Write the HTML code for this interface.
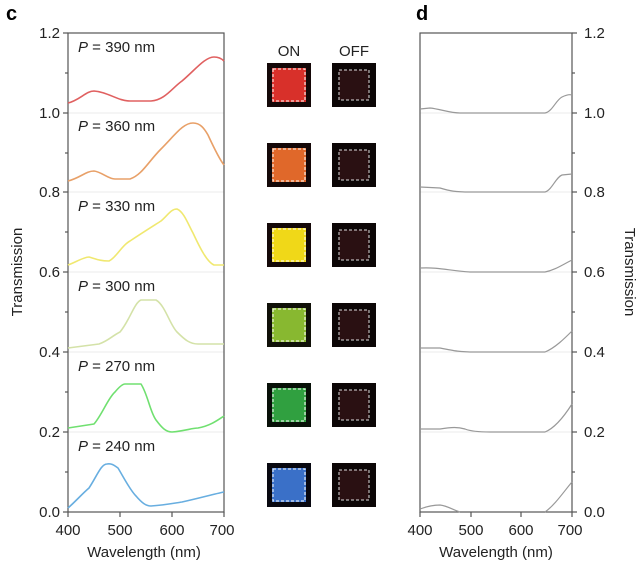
<!DOCTYPE html>
<html><head><meta charset="utf-8"><style>
body{margin:0;background:#fff;width:640px;height:576px;overflow:hidden}
svg{font-family:"Liberation Sans",Arial,sans-serif}
</style></head><body>
<svg width="640" height="576" viewBox="0 0 640 576" xmlns="http://www.w3.org/2000/svg">
<text x="6" y="20" font-size="20" font-weight="bold">c</text>
<text x="416" y="20" font-size="20" font-weight="bold">d</text>
<g stroke="#ebebeb" stroke-width="1">
<line x1="68" x2="224" y1="113" y2="113"/><line x1="68" x2="224" y1="192" y2="192"/><line x1="68" x2="224" y1="272" y2="272"/><line x1="68" x2="224" y1="352" y2="352"/><line x1="68" x2="224" y1="432" y2="432"/>
<line x1="420" x2="572" y1="113" y2="113"/><line x1="420" x2="572" y1="192" y2="192"/><line x1="420" x2="572" y1="272" y2="272"/><line x1="420" x2="572" y1="352" y2="352"/><line x1="420" x2="572" y1="432" y2="432"/>
</g>
<rect x="68" y="33" width="156" height="479" fill="none" stroke="#555" stroke-width="1.2"/>
<g stroke="#555" stroke-width="1.2">
<line x1="63" x2="68" y1="33" y2="33"/><line x1="65" x2="68" y1="73" y2="73"/><line x1="63" x2="68" y1="113" y2="113"/><line x1="65" x2="68" y1="153" y2="153"/><line x1="63" x2="68" y1="192" y2="192"/><line x1="65" x2="68" y1="232" y2="232"/><line x1="63" x2="68" y1="272" y2="272"/><line x1="65" x2="68" y1="312" y2="312"/><line x1="63" x2="68" y1="352" y2="352"/><line x1="65" x2="68" y1="392" y2="392"/><line x1="63" x2="68" y1="432" y2="432"/><line x1="65" x2="68" y1="472" y2="472"/><line x1="63" x2="68" y1="512" y2="512"/>
<line x1="68" x2="68" y1="512" y2="517"/><line x1="120" x2="120" y1="512" y2="517"/><line x1="172" x2="172" y1="512" y2="517"/><line x1="224" x2="224" y1="512" y2="517"/>
</g>
<g font-size="15" fill="#222" text-anchor="end">
<text x="60" y="38">1.2</text><text x="60" y="118">1.0</text><text x="60" y="197">0.8</text><text x="60" y="277">0.6</text><text x="60" y="357">0.4</text><text x="60" y="437">0.2</text><text x="60" y="517">0.0</text>
</g>
<g font-size="15" fill="#222" text-anchor="middle">
<text x="68" y="535">400</text><text x="120" y="535">500</text><text x="172" y="535">600</text><text x="222" y="535">700</text>
<text x="144" y="557">Wavelength (nm)</text>
</g>
<text transform="translate(22,272) rotate(-90)" font-size="15" text-anchor="middle" fill="#222">Transmission</text>
<g font-size="15" fill="#222">
<text x="78" y="52"><tspan font-style="italic">P</tspan> = 390 nm</text>
<text x="78" y="131"><tspan font-style="italic">P</tspan> = 360 nm</text>
<text x="78" y="211"><tspan font-style="italic">P</tspan> = 330 nm</text>
<text x="78" y="291"><tspan font-style="italic">P</tspan> = 300 nm</text>
<text x="78" y="371"><tspan font-style="italic">P</tspan> = 270 nm</text>
<text x="78" y="451"><tspan font-style="italic">P</tspan> = 240 nm</text>
</g>
<g fill="none" stroke-width="1.6" stroke-linejoin="round">
<path stroke="#e06060" d="M68,103 C80,100 86,91 94,91 C108,92 118,101 130,101 L151,101 C165,100 172,88 182,81 C195,70 205,57 214,57 C219,57 222,59 224,61"/>
<path stroke="#e8a068" d="M68,181 C80,178 86,171 94,171 C102,172 108,179 115,179 L130,179 C142,175 148,162 161,149 C175,135 183,123 193,123 C200,123 204,128 208,135 C214,148 220,160 224,165"/>
<path stroke="#f0e870" d="M68,265 C76,262 84,257 89,257 C96,259 100,261 109,261 C116,258 122,245 130,241 C142,233 150,228 161,221 C168,215 171,209 177,209 C184,212 188,224 193,233 C200,248 207,262 214,265 L224,265"/>
<path stroke="#d4e2a8" d="M68,348 L99,344 C108,341 112,336 120,332 C130,320 134,303 141,300 L156,300 C165,305 170,325 177,332 C185,340 190,344 198,344 L224,344"/>
<path stroke="#70e070" d="M68,428 L94,424 C102,415 108,398 115,392 C120,386 123,384 125,384 L141,384 C148,395 150,412 156,420 C162,428 166,432 172,432 C185,431 192,428 198,428 C210,426 218,420 224,416"/>
<path stroke="#68aee0" d="M68,508 C76,501 82,494 89,488 C97,476 101,464 107,464 C112,463 115,466 118,468 C124,478 130,490 136,496 C142,503 146,506 151,506 C165,505 175,503 182,502 C200,498 214,494 224,492"/>
</g>
<g font-size="15" fill="#222" text-anchor="middle"><text x="289" y="56">ON</text><text x="354" y="56">OFF</text></g>
<defs>
<g id="off"><rect x="-22" y="-22" width="44" height="44" fill="#0c0606"/><rect x="-15" y="-15" width="30" height="30" fill="#2a1012"/><rect x="-15" y="-15" width="30" height="30" fill="none" stroke="#ddd" stroke-width="1" stroke-dasharray="3,2"/></g>
</defs>
<g>
<g transform="translate(289,85)"><rect x="-22" y="-22" width="44" height="44" fill="#140808"/><rect x="-17" y="-17" width="34" height="34" fill="#d8302a"/><rect x="-16" y="-16" width="32" height="32" fill="none" stroke="#fff" stroke-dasharray="3,2"/></g>
<g transform="translate(289,165)"><rect x="-22" y="-22" width="44" height="44" fill="#140808"/><rect x="-17" y="-17" width="34" height="34" fill="#e0682a"/><rect x="-16" y="-16" width="32" height="32" fill="none" stroke="#fff" stroke-dasharray="3,2"/></g>
<g transform="translate(289,245)"><rect x="-22" y="-22" width="44" height="44" fill="#140808"/><rect x="-17" y="-17" width="34" height="34" fill="#f0d818"/><rect x="-16" y="-16" width="32" height="32" fill="none" stroke="#fff" stroke-dasharray="3,2"/></g>
<g transform="translate(289,325)"><rect x="-22" y="-22" width="44" height="44" fill="#101008"/><rect x="-17" y="-17" width="34" height="34" fill="#88b830"/><rect x="-16" y="-16" width="32" height="32" fill="none" stroke="#fff" stroke-dasharray="3,2"/></g>
<g transform="translate(289,405)"><rect x="-22" y="-22" width="44" height="44" fill="#081008"/><rect x="-17" y="-17" width="34" height="34" fill="#30a040"/><rect x="-16" y="-16" width="32" height="32" fill="none" stroke="#fff" stroke-dasharray="3,2"/></g>
<g transform="translate(289,485)"><rect x="-22" y="-22" width="44" height="44" fill="#080810"/><rect x="-17" y="-17" width="34" height="34" fill="#3a70c8"/><rect x="-16" y="-16" width="32" height="32" fill="none" stroke="#fff" stroke-dasharray="3,2"/></g>
<use href="#off" x="354" y="85"/><use href="#off" x="354" y="165"/><use href="#off" x="354" y="245"/><use href="#off" x="354" y="325"/><use href="#off" x="354" y="405"/><use href="#off" x="354" y="485"/>
</g>
<rect x="420" y="33" width="152" height="479" fill="none" stroke="#555" stroke-width="1.2"/>
<g stroke="#555" stroke-width="1.2">
<line x1="572" x2="577" y1="33" y2="33"/><line x1="572" x2="575" y1="73" y2="73"/><line x1="572" x2="577" y1="113" y2="113"/><line x1="572" x2="575" y1="153" y2="153"/><line x1="572" x2="577" y1="192" y2="192"/><line x1="572" x2="575" y1="232" y2="232"/><line x1="572" x2="577" y1="272" y2="272"/><line x1="572" x2="575" y1="312" y2="312"/><line x1="572" x2="577" y1="352" y2="352"/><line x1="572" x2="575" y1="392" y2="392"/><line x1="572" x2="577" y1="432" y2="432"/><line x1="572" x2="575" y1="472" y2="472"/><line x1="572" x2="577" y1="512" y2="512"/>
<line x1="420" x2="420" y1="512" y2="517"/><line x1="471" x2="471" y1="512" y2="517"/><line x1="521" x2="521" y1="512" y2="517"/><line x1="572" x2="572" y1="512" y2="517"/>
</g>
<g font-size="15" fill="#222">
<text x="584" y="38">1.2</text><text x="584" y="118">1.0</text><text x="584" y="197">0.8</text><text x="584" y="277">0.6</text><text x="584" y="357">0.4</text><text x="584" y="437">0.2</text><text x="584" y="517">0.0</text>
</g>
<g font-size="15" fill="#222" text-anchor="middle">
<text x="420" y="535">400</text><text x="471" y="535">500</text><text x="521" y="535">600</text><text x="570" y="535">700</text>
<text x="496" y="557">Wavelength (nm)</text>
</g>
<text transform="translate(625,272) rotate(90)" font-size="15" text-anchor="middle" fill="#222">Transmission</text>
<g fill="none" stroke="#999" stroke-width="1.2">
<path d="M420,109 L430,108 C440,109 450,113 460,113 L545,113 C552,112 556,100 562,97 C566,95 569,94 572,95"/>
<path d="M420,187 L440,188 C450,191 455,192 470,192 L545,192 C552,190 556,177 562,175 L572,174"/>
<path d="M420,268 C440,267 450,271 470,272 L545,272 C555,270 562,265 572,260"/>
<path d="M420,348 L440,348 C455,351 460,352 475,352 L545,352 C555,348 565,338 572,331"/>
<path d="M420,429 L440,429 C452,427 458,427 465,429 C470,431 478,432 490,432 L545,432 C555,428 565,415 572,404"/>
<path d="M420,509 C428,506 433,505 440,505 C448,506 453,510 460,512 M545,512 C555,505 565,490 572,482"/>
</g>
</svg>
</body></html>
